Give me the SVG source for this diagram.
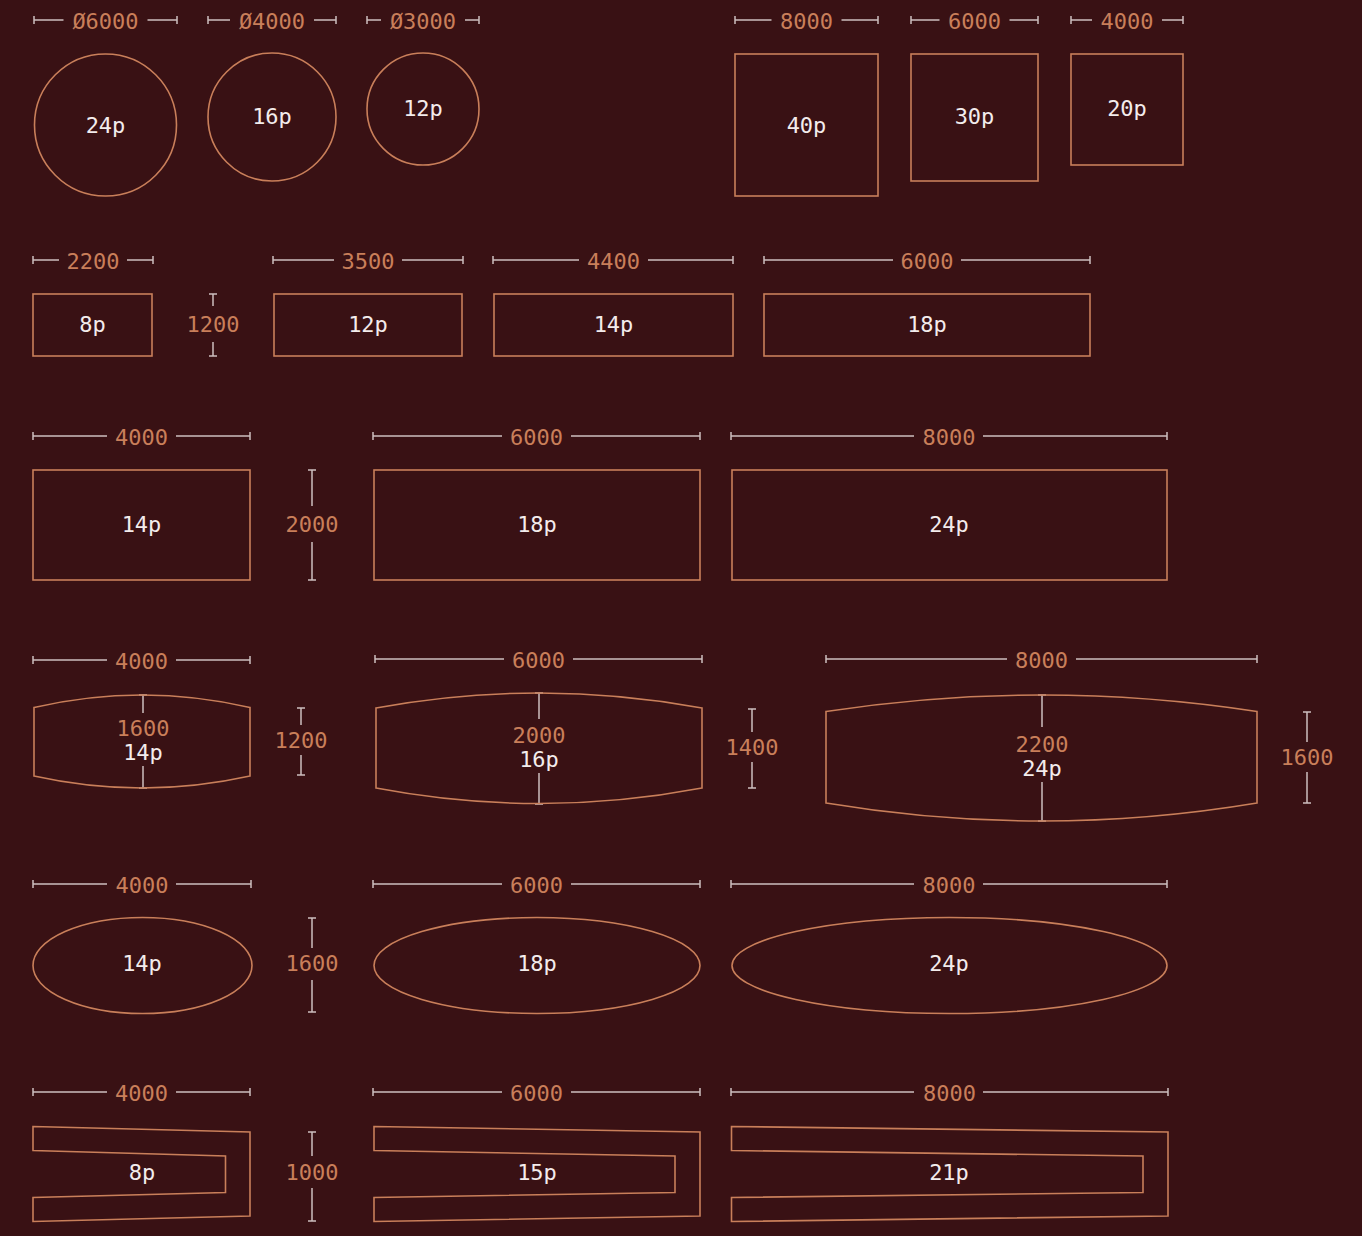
<svg xmlns="http://www.w3.org/2000/svg" width="1362" height="1236" viewBox="0 0 1362 1236">
<style>
.bg{fill:#391114}
.sh{fill:none;stroke:#c97f5a;stroke-width:1.6}
.dl{fill:none;stroke:#cdbfbf;stroke-width:1.5}
.dt{font-family:"DejaVu Sans Mono","Liberation Mono",monospace;font-size:22px;fill:#c97f5a;text-anchor:middle;dominant-baseline:central}
.lb{font-family:"DejaVu Sans Mono","Liberation Mono",monospace;font-size:22px;fill:#f3ecec;text-anchor:middle;dominant-baseline:central}
</style>
<rect class="bg" x="0" y="0" width="1362" height="1236"/>

<g id="dims" class="dl">
<path d="M34 20H63.5M147.5 20H177M34 16V24M177 16V24"/>
<path d="M208 20H230M314 20H336M208 16V24M336 16V24"/>
<path d="M367 20H381M465 20H479M367 16V24M479 16V24"/>
<path d="M735 20H771.5M841.5 20H878M735 16V24M878 16V24"/>
<path d="M911 20H939.5M1009.5 20H1038M911 16V24M1038 16V24"/>
<path d="M1071 20H1092M1162 20H1183M1071 16V24M1183 16V24"/>
<path d="M33 260H59M127 260H153M33 256V264M153 256V264"/>
<path d="M273 260H334M402 260H463M273 256V264M463 256V264"/>
<path d="M493 260H579M648 260H733M493 256V264M733 256V264"/>
<path d="M764 260H893M961 260H1090M764 256V264M1090 256V264"/>
<path d="M213 294V306M213 342V356M209 294H217M209 356H217"/>
<path d="M33 436H107M176 436H250M33 432V440M250 432V440"/>
<path d="M373 436H502M571 436H700M373 432V440M700 432V440"/>
<path d="M731 436H914M983 436H1167M731 432V440M1167 432V440"/>
<path d="M312 470V506M312 542V580M308 470H316M308 580H316"/>
<path d="M33 660H107M176 660H250M33 656V664M250 656V664"/>
<path d="M375 659H504M573 659H702M375 655V663M702 655V663"/>
<path d="M826 659H1007M1076 659H1257M826 655V663M1257 655V663"/>
<path d="M301 708V725M301 755V775M297 708H305M297 775H305"/>
<path d="M752 709V732M752 762V788M748 709H756M748 788H756"/>
<path d="M1307 712V742M1307 772V803M1303 712H1311M1303 803H1311"/>
<path d="M143 695V713M143 766V788M139 695H147M139 788H147"/>
<path d="M539 693V719M539 773V804M535 693H543M535 804H543"/>
<path d="M1042 695V727M1042 782V821M1038 695H1046M1038 821H1046"/>
<path d="M33 884H107M176 884H251M33 880V888M251 880V888"/>
<path d="M373 884H502M571 884H700M373 880V888M700 880V888"/>
<path d="M731 884H914M983 884H1167M731 880V888M1167 880V888"/>
<path d="M312 918V948M312 980V1012M308 918H316M308 1012H316"/>
<path d="M33 1092H107M176 1092H250M33 1088V1096M250 1088V1096"/>
<path d="M373 1092H502M571 1092H700M373 1088V1096M700 1088V1096"/>
<path d="M731 1092H914M983 1092H1168M731 1088V1096M1168 1088V1096"/>
<path d="M312 1132V1156M312 1188V1221M308 1132H316M308 1221H316"/>
</g>

<g id="dim-labels">
<text class="dt" x="105.5" y="21">Ø6000</text>
<text class="dt" x="272" y="21">Ø4000</text>
<text class="dt" x="423" y="21">Ø3000</text>
<text class="dt" x="806.5" y="21">8000</text>
<text class="dt" x="974.5" y="21">6000</text>
<text class="dt" x="1127" y="21">4000</text>
<text class="dt" x="93" y="261">2200</text>
<text class="dt" x="368" y="261">3500</text>
<text class="dt" x="613.5" y="261">4400</text>
<text class="dt" x="927" y="261">6000</text>
<text class="dt" x="213" y="324">1200</text>
<text class="dt" x="141.5" y="437">4000</text>
<text class="dt" x="536.5" y="437">6000</text>
<text class="dt" x="949" y="437">8000</text>
<text class="dt" x="312" y="524">2000</text>
<text class="dt" x="141.5" y="661">4000</text>
<text class="dt" x="538.5" y="660">6000</text>
<text class="dt" x="1041.5" y="660">8000</text>
<text class="dt" x="301" y="740">1200</text>
<text class="dt" x="752" y="747">1400</text>
<text class="dt" x="1307" y="757">1600</text>
<text class="dt" x="143" y="728">1600</text>
<text class="dt" x="539" y="735">2000</text>
<text class="dt" x="1042" y="744">2200</text>
<text class="dt" x="142" y="885">4000</text>
<text class="dt" x="536.5" y="885">6000</text>
<text class="dt" x="949" y="885">8000</text>
<text class="dt" x="312" y="963">1600</text>
<text class="dt" x="141.5" y="1093">4000</text>
<text class="dt" x="536.5" y="1093">6000</text>
<text class="dt" x="949.5" y="1093">8000</text>
<text class="dt" x="312" y="1172">1000</text>
</g>

<g id="circle-24"><circle class="sh" cx="105.5" cy="125" r="71"/><text class="lb" x="105.5" y="125">24p</text></g>
<g id="circle-16"><circle class="sh" cx="272" cy="117" r="64"/><text class="lb" x="272" y="116">16p</text></g>
<g id="circle-12"><circle class="sh" cx="423" cy="109" r="56"/><text class="lb" x="423" y="108">12p</text></g>

<g id="square-40"><rect class="sh" x="735" y="54" width="143" height="142"/><text class="lb" x="806.5" y="125">40p</text></g>
<g id="square-30"><rect class="sh" x="911" y="54" width="127" height="127"/><text class="lb" x="974.5" y="116">30p</text></g>
<g id="square-20"><rect class="sh" x="1071" y="54" width="112" height="111"/><text class="lb" x="1127" y="108">20p</text></g>

<g id="rect-8"><rect class="sh" x="33" y="294" width="119" height="62"/><text class="lb" x="92.5" y="324">8p</text></g>
<g id="rect-12"><rect class="sh" x="274" y="294" width="188" height="62"/><text class="lb" x="368" y="324">12p</text></g>
<g id="rect-14"><rect class="sh" x="494" y="294" width="239" height="62"/><text class="lb" x="613.5" y="324">14p</text></g>
<g id="rect-18"><rect class="sh" x="764" y="294" width="326" height="62"/><text class="lb" x="927" y="324">18p</text></g>

<g id="table-14"><rect class="sh" x="33" y="470" width="217" height="110"/><text class="lb" x="141.5" y="524">14p</text></g>
<g id="table-18"><rect class="sh" x="374" y="470" width="326" height="110"/><text class="lb" x="537" y="524">18p</text></g>
<g id="table-24"><rect class="sh" x="732" y="470" width="435" height="110"/><text class="lb" x="949" y="524">24p</text></g>

<g id="barrel-14"><path class="sh" d="M34 707.5Q142 682.5 250 707.5V776Q142 800 34 776Z"/><text class="lb" x="143" y="752">14p</text></g>
<g id="barrel-16"><path class="sh" d="M376 708Q539 678 702 708V788Q539 819 376 788Z"/><text class="lb" x="539" y="759">16p</text></g>
<g id="barrel-24"><path class="sh" d="M826 711.5Q1041.5 678.5 1257 711.5V803Q1041.5 839 826 803Z"/><text class="lb" x="1042" y="768">24p</text></g>

<g id="oval-14"><ellipse class="sh" cx="142.5" cy="965.5" rx="109.5" ry="48"/><text class="lb" x="142" y="963">14p</text></g>
<g id="oval-18"><ellipse class="sh" cx="537" cy="965.5" rx="163" ry="48"/><text class="lb" x="537" y="963">18p</text></g>
<g id="oval-24"><ellipse class="sh" cx="949.5" cy="965.5" rx="217.5" ry="48"/><text class="lb" x="949" y="963">24p</text></g>

<g id="u-8"><path class="sh" d="M33 1126.5L250 1132V1216L33 1221.5V1197.5L225.5 1192.5V1156L33 1150.5Z"/><text class="lb" x="142" y="1172">8p</text></g>
<g id="u-15"><path class="sh" d="M374 1126.5L700 1132V1216L374 1221.5V1197.5L675 1192.5V1156L374 1150.5Z"/><text class="lb" x="537" y="1172">15p</text></g>
<g id="u-21"><path class="sh" d="M731.5 1126.5L1168 1132V1216L731.5 1221.5V1197.5L1143 1192.5V1156L731.5 1150.5Z"/><text class="lb" x="949" y="1172">21p</text></g>
</svg>
